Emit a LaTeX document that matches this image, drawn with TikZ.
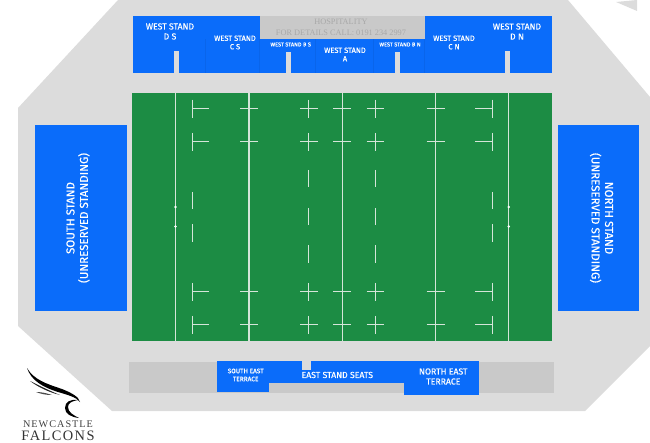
\documentclass[tikz,border=0pt]{standalone}
\usepackage{fontspec}
\setmainfont{Fira Sans}
\newfontfamily\standfont[FakeBold=0.4]{Fira Sans}
\newfontfamily\hospfont{Liberation Serif}
\newfontfamily\logofont[LetterSpace=10]{Liberation Serif}
\usetikzlibrary{calc}
\definecolor{standblue}{HTML}{0A6CFA}
\definecolor{pitchgreen}{HTML}{1C8C44}
\definecolor{concourse}{HTML}{DCDCDC}
\definecolor{closedgrey}{HTML}{C9C9C9}
\definecolor{pitchline}{HTML}{D5E5D9}
\tikzstyle{stand}=[fill=standblue]
\tikzstyle{closed}=[fill=closedgrey]
\tikzstyle{gangway}=[fill=concourse]
\tikzstyle{divider}=[draw=black,draw opacity=0.06,line width=0.5pt]
\tikzstyle{standlabel}=[text=white,align=center,inner sep=0pt,font=\standfont\fontsize{8.7}{10}\selectfont]
\tikzstyle{smalllabel}=[text=white,align=center,inner sep=0pt,font=\standfont\fontsize{7.5}{8.5}\selectfont]
\tikzstyle{tinylabel}=[text=white,align=center,inner sep=0pt,font=\standfont\fontsize{5.6}{6}\selectfont]
\tikzstyle{sidelabel}=[text=white,align=center,inner sep=0pt,font=\standfont\fontsize{11.5}{13.5}\selectfont]
\tikzstyle{pitchmark}=[draw=pitchline,line width=1pt]
\tikzstyle{tryline}=[draw=pitchline,line width=1.1pt]
\begin{document}
\begin{tikzpicture}[x=1pt,y=-1pt]
   \useasboundingbox (0,0) rectangle (650,443);

   % concourse
   \fill[concourse] (118,0) -- (568,0) -- (650,97) -- (650,346) -- (585,411) -- (112,411) -- (18,326) -- (18,108) -- cycle;
   \fill[concourse] (616,2) -- (637,0) -- (637,11) -- cycle;

   % west stand
   \fill[stand] (132.5,16) rectangle (552,73);
   \fill[closed] (259.5,16) rectangle (424.5,39);
   \foreach \x in {205,259.5,315,373,424.5}
       \draw[divider] (\x,39) -- (\x,73);
   \foreach \x/\top in {174.3/51,285.7/52,394.7/52,505/51}
       \fill[gangway] (\x,\top) rectangle (\x+5,73);

   \node[text=black!34,align=center,inner sep=0pt,font=\hospfont\fontsize{8.3}{11}\selectfont] (hospitality) at (341,27.5) {HOSPITALITY\\FOR DETAILS CALL: 0191 234 2997};

   \foreach \pos/\name/\label in {{(170,31.5)/westDS/WEST STAND\\D S}, {(517,31.5)/westDN/WEST STAND\\D N}}
       \node[standlabel] (\name) at \pos {\label};
   \foreach \pos/\name/\label in {{(235,42.5)/westCS/WEST STAND\\C S}, {(454,42.5)/westCN/WEST STAND\\C N}, {(345,54.5)/westA/WEST STAND\\A}}
       \node[smalllabel] (\name) at \pos {\label};
   \foreach \pos/\name/\label in {{(290.7,44.5)/westBS/WEST STAND B S}, {(400,44.5)/westBN/WEST STAND B N}}
       \node[tinylabel] (\name) at \pos {\label};

   % pitch
   \fill[pitchgreen] (132,93) rectangle (552,341);
   \foreach \x in {175.4,249,342.3,435.7,508.7}
       \draw[tryline] (\x,93) -- (\x,341);

   % 5m and 15m marks
   \foreach \y in {108.7,142,292,325} {
       \draw[pitchmark] (192.3,\y-9) -- (192.3,\y+9);
       \draw[pitchmark] (192.3,\y) -- (209,\y);
       \draw[pitchmark] (240,\y) -- (258,\y);
       \draw[pitchmark] (300,\y) -- (318,\y);
       \draw[pitchmark] (308.8,\y-9) -- (308.8,\y+9);
       \draw[pitchmark] (333,\y) -- (351,\y);
       \draw[pitchmark] (366.5,\y) -- (384,\y);
       \draw[pitchmark] (375,\y-9) -- (375,\y+9);
       \draw[pitchmark] (426.5,\y) -- (445,\y);
       \draw[pitchmark] (475,\y) -- (492.3,\y);
       \draw[pitchmark] (492.3,\y-9) -- (492.3,\y+9);
   }
   \foreach \x in {192.3,492.3}
       \foreach \y in {192,224.5}
           \draw[pitchmark] (\x,\y) -- (\x,\y+17.5);
   \foreach \x in {308.8,375}
       \foreach \y in {170,208,245.5}
           \draw[pitchmark] (\x,\y) -- (\x,\y+17.5);
   \foreach \x in {175.4,508.7}
       \foreach \y in {207,226.5}
           \fill[white] (\x,\y) circle (1.4);

   % south and north stands
   \fill[stand] (34.5,125) rectangle (126.5,310.7);
   \fill[stand] (558.3,125) rectangle (639.3,310.7);
   \node[sidelabel,rotate=90] (south) at (78,218) {SOUTH STAND\\(UNRESERVED STANDING)};
   \node[sidelabel,rotate=-90] (north) at (601.5,218) {NORTH STAND\\(UNRESERVED STANDING)};

   % east stand
   \fill[closed] (129.3,361.5) rectangle (554,393);
   \fill[stand] (217.3,361) rectangle (269,392);
   \fill[stand] (269,361) rectangle (404,383);
   \fill[stand] (404,361) rectangle (479,395);
   \fill[gangway] (302,361) rectangle (310.7,370);
   \node[tinylabel,font=\standfont\fontsize{6.5}{8}\selectfont] (southeast) at (245.7,375) {SOUTH EAST\\TERRACE};
   \node[standlabel] (eastseats) at (337.3,375) {EAST STAND SEATS};
   \node[standlabel] (northeast) at (443.3,376.5) {NORTH EAST\\TERRACE};

   % falcon
   \fill[black] (27,368) .. controls (31,380) and (42,387) .. (58,392) .. controls (68,395) and (76,397) .. (80,402) .. controls (79,397) and (72,393) .. (62,389) .. controls (47,384) and (34,380) .. cycle;
   \fill[black!85] (30,381) .. controls (38,385) and (48,390) .. (60,395) .. controls (48,392) and (38,387) .. cycle;
   \fill[black!70] (36,392) .. controls (41,392) and (46,393) .. (52,395) .. controls (46,395) and (41,394) .. cycle;
   \fill[black] (78,400) .. controls (70,399) and (65,402) .. (65,408) .. controls (65,414) and (71,417) .. (79,418) .. controls (73,415) and (68,412) .. (68,407) .. controls (68,403) and (72,401) .. cycle;
   \node[inner sep=0pt,text=black!75,font=\logofont\fontsize{10.2}{10}\selectfont] (newcastle) at (58,424) {NEWCASTLE};
   \node[inner sep=0pt,text=black!80,font=\logofont\fontsize{14.4}{14}\selectfont] (falcons) at (58,436) {FALCONS};

\end{tikzpicture}
\end{document}
